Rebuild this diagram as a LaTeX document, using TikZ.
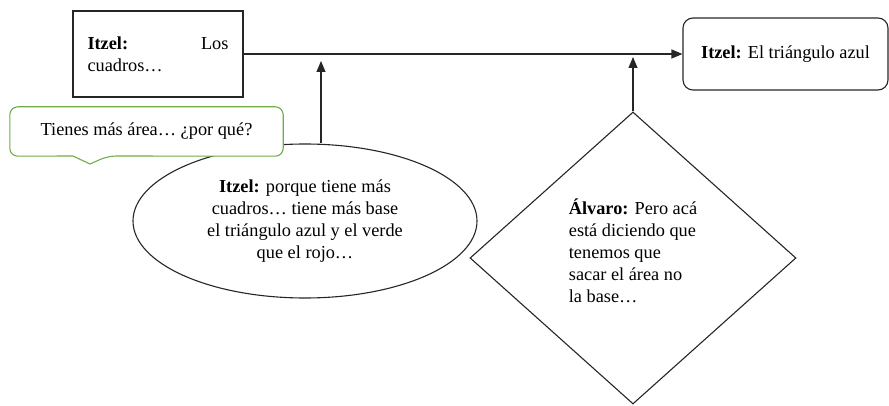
\documentclass[tikz,border=0pt]{standalone}
\usepackage{fontspec}
\setmainfont{Liberation Serif}
\usetikzlibrary{shapes.geometric,arrows.meta}
\definecolor{callgreen}{HTML}{70AD47}
\tikzset{
  every node/.style={font=\fontsize{18.3}{22}\selectfont},
  line/.style={draw=black!85, line width=1.1pt},
  arr/.style={line, -{Triangle[length=11pt,width=9pt]}},
  sqbox/.style={line, rectangle, minimum width=170pt, minimum height=86pt, inner sep=0pt},
  rndbox/.style={line, rectangle, rounded corners=10pt, minimum width=205pt, minimum height=72pt, inner sep=0pt},
  ellbox/.style={line, ellipse, fill=white, minimum width=344pt, minimum height=154pt, inner sep=0pt, align=center},
  diabox/.style={line, diamond, minimum width=326pt, minimum height=292pt, inner sep=0pt},
  plain/.style={inner sep=0pt, align=left},
}
\begin{document}
\begin{tikzpicture}[x=1pt,y=-1pt]
\useasboundingbox (0,0) rectangle (889,406);
% main nodes
\node[sqbox] (r1) at (158,54) {\parbox{141pt}{\textbf{Itzel:}\hfill Los\\cuadros…}};
\node[rndbox] (r2) at (785.5,54) {\textbf{Itzel:} El triángulo azul};
\draw[arr] (r1.east) -- (r2.west);
% ellipse
\node[ellbox] (ell) at (305,221) {\textbf{Itzel:} porque tiene más\\cuadros… tiene más base\\el triángulo azul y el verde\\que el rojo…};
% callout
\node[inner sep=0pt, minimum width=273pt, minimum height=49pt] (call) at (146.5,131.5) {};
\coordinate (pr) at (108,156);
\coordinate (tip) at (90,164);
\coordinate (pl) at (73,156);
\fill[white] (call.south west) rectangle (call.north east);
\draw[draw=callgreen, line width=1.1pt, fill=white, rounded corners=8pt]
  (pl) -- (call.south west) -- (call.north west) -- (call.north east) -- (call.south east) -- (pr)
  [sharp corners] -- (tip) -- (pl) -- cycle;
\node[inner sep=0pt] (calltext) at (call.center) {Tienes más área… ¿por qué?};
% diamond
\node[diabox] (dia) at (633,258) {};
\node[plain] (dtext) at (633,251) {\textbf{Álvaro:} Pero acá\\está diciendo que\\tenemos que\\sacar el área no\\la base…};
% vertical connectors
\coordinate (j1) at (321,54);
\coordinate (j2) at (633,54);
\draw[arr, shorten >=7pt] (ell.north -| j1) -- (j1);
\draw[arr, shorten >=3pt] (dia.north) -- (j2);
\end{tikzpicture}
\end{document}
